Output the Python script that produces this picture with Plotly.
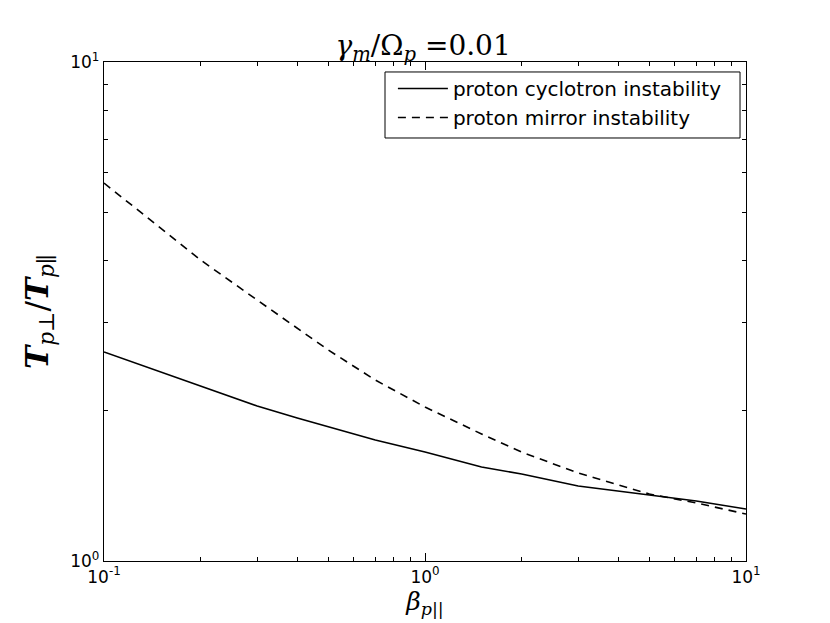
import plotly.graph_objects as go

# Data
beta_c = [0.1, 0.2, 0.3, 0.4, 0.5, 0.7, 1.0, 1.5, 2.0, 3.0, 5.0, 7.0, 10.0]
cyclotron = [2.624, 2.242, 2.045, 1.935, 1.856, 1.748, 1.653, 1.543, 1.494, 1.413, 1.356, 1.319, 1.271]
beta_m = [0.1, 0.2, 0.3, 0.5, 0.7, 1.0, 1.5, 2.0, 3.0, 5.0, 7.0, 10.0]
mirror = [5.72, 4.01, 3.334, 2.647, 2.305, 2.035, 1.797, 1.653, 1.501, 1.362, 1.307, 1.242]

x_tickvals = [0.1, 1, 10]
x_ticktext = ["10<sup>-1</sup>", "10<sup>0</sup>", "10<sup>1</sup>"]
y_tickvals = [1, 10]
y_ticktext = ["10<sup>0</sup>", "10<sup>1</sup>"]
x_minor = [0.2, 0.3, 0.4, 0.5, 0.6, 0.7, 0.8, 0.9, 2, 3, 4, 5, 6, 7, 8, 9]
y_minor = [2, 3, 4, 5, 6, 7, 8, 9]

fig = go.Figure()
fig.add_trace(go.Scatter(x=beta_c, y=cyclotron, mode="lines",
                         name="proton cyclotron instability",
                         line=dict(color="black", width=1.6, dash="solid")))
fig.add_trace(go.Scatter(x=beta_m, y=mirror, mode="lines",
                         name="proton mirror instability",
                         line=dict(color="black", width=1.6, dash="8px,6px")))

axis_common = dict(
    type="log", showgrid=False, zeroline=False, automargin=False,
    showline=True, linecolor="black", linewidth=1.3, mirror="allticks",
    ticks="inside", ticklen=8, tickwidth=1, tickcolor="black",
    tickfont=dict(family="DejaVu Sans", size=17, color="black"),
)

fig.update_xaxes(range=[-1, 1], tickmode="array", tickvals=x_tickvals, ticktext=x_ticktext,
                 minor=dict(tickmode="array", tickvals=x_minor, ticks="inside", ticklen=4,
                            tickwidth=1, tickcolor="black", showgrid=False),
                 title=dict(text="<i>β</i><sub><i>p</i>||</sub>",
                            font=dict(family="DejaVu Serif", size=25, color="black"),
                            standoff=0),
                 **axis_common)
fig.update_yaxes(range=[0, 1], tickmode="array", tickvals=y_tickvals, ticktext=y_ticktext,
                 minor=dict(tickmode="array", tickvals=y_minor, ticks="inside", ticklen=4,
                            tickwidth=1, tickcolor="black", showgrid=False),
                 title=dict(text="<i><b>T</b></i><sub><i>p</i>⊥</sub>/<i><b>T</b></i><sub><i>p</i>∥</sub>",
                            font=dict(family="DejaVu Serif", size=31, color="black"),
                            standoff=12),
                 **axis_common)

# legend frame drawn as a paper-space box so its padding matches the reference
fig.add_shape(type="rect", xref="paper", yref="paper",
              x0=0.4377, x1=0.9907, y0=0.8477, y1=0.98,
              line=dict(color="black", width=1), fillcolor="white", layer="above")

# page body has an 8px margin, so the figure is shrunk by 8px
fig.update_layout(
    width=822, height=615,
    margin=dict(l=96, r=84, t=54, b=62),
    paper_bgcolor="white", plot_bgcolor="white",
    title=dict(text="<i>γ</i><sub><i>m</i></sub>/Ω<sub><i>p</i></sub> =0.01",
               font=dict(family="DejaVu Serif", size=28, color="black"),
               x=0.505, xanchor="center", y=0.94, yanchor="middle", automargin=False),
    legend=dict(x=0.450, xanchor="left", y=0.986, yanchor="top",
                bgcolor="rgba(0,0,0,0)", borderwidth=0,
                font=dict(family="DejaVu Sans", size=20, color="black"),
                itemwidth=50, tracegroupgap=2),
    showlegend=True,
)

fig.write_html("out.html")
